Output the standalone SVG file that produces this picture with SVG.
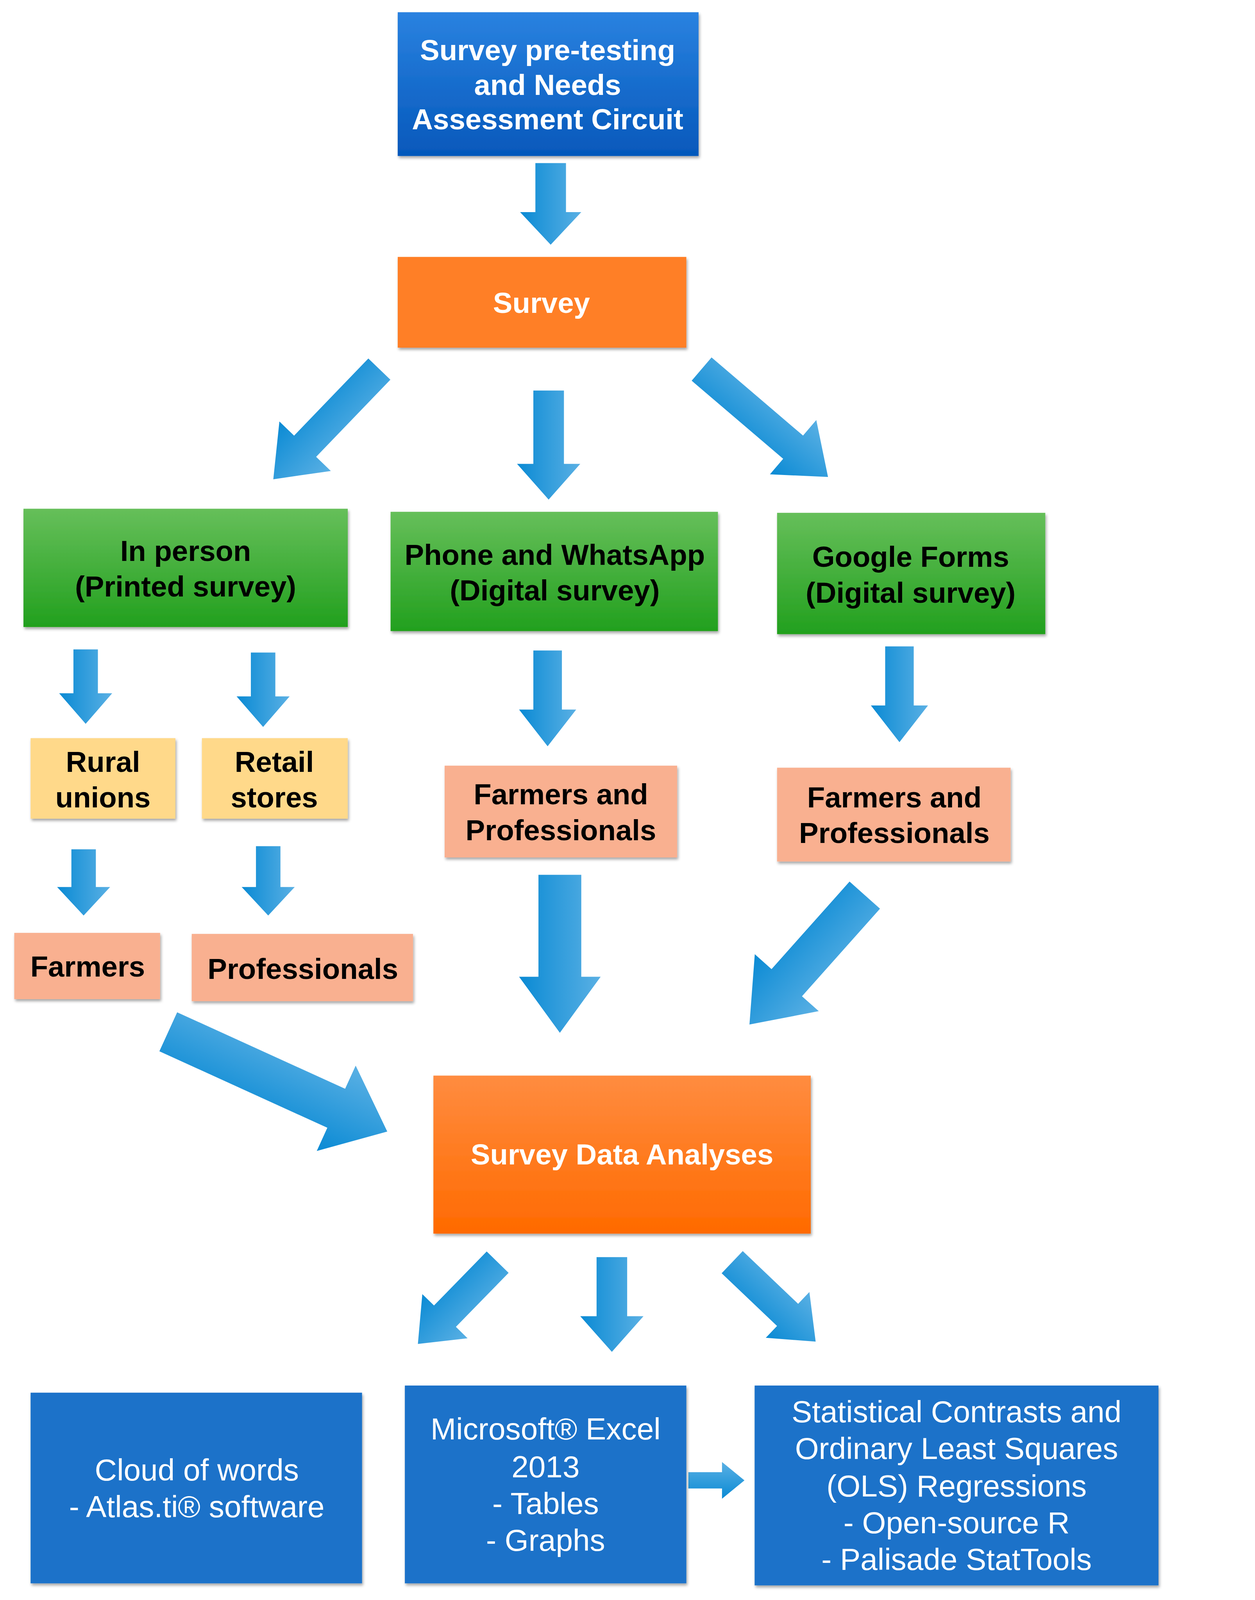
<svg xmlns="http://www.w3.org/2000/svg" width="3212" height="4374" viewBox="0 0 3212 4374">
<defs>
<linearGradient id="ag" x1="0" y1="0" x2="0" y2="1"><stop offset="0" stop-color="#5ab0e4"/><stop offset="1" stop-color="#0a8ad4"/></linearGradient>
<linearGradient id="bg" x1="0" y1="0" x2="0" y2="1"><stop offset="0" stop-color="#2a82e0"/><stop offset="1" stop-color="#0558bb"/></linearGradient>
<linearGradient id="gg" x1="0" y1="0" x2="0" y2="1"><stop offset="0" stop-color="#66bf5a"/><stop offset="1" stop-color="#22a01e"/></linearGradient>
<linearGradient id="og" x1="0" y1="0" x2="0" y2="1"><stop offset="0" stop-color="#ff8c40"/><stop offset="1" stop-color="#ff6a00"/></linearGradient>
<filter id="sh" x="-10%" y="-10%" width="130%" height="130%"><feDropShadow dx="1" dy="2" stdDeviation="1.5" flood-opacity="0.35"/></filter>
</defs>
<style>
.t{font-family:"Liberation Sans",Arial,sans-serif;text-anchor:middle}
.b{font-weight:bold;font-size:28.5px}
.w{fill:#fff}
.k{fill:#000}
.n{font-size:30px;fill:#fff}
.a{fill:url(#ag)}
.bx{filter:url(#sh)}
</style>
<g transform="scale(2.61,2.61)">
<g id="connectors">
<path class="a" transform="translate(540,160) rotate(90)" d="M0,-15 L48,-15 L48,-30 L80,0 L48,30 L48,15 L0,15 Z"/>
<path class="a" transform="translate(372,362) rotate(133.9)" d="M0,-15 L105,-15 L105,-35 L150,0 L105,35 L105,15 L0,15 Z"/>
<path class="a" transform="translate(538,383) rotate(90)" d="M0,-15 L72,-15 L72,-31 L107,0 L72,31 L72,15 L0,15 Z"/>
<path class="a" transform="translate(688,362) rotate(40.5)" d="M0,-15 L118,-15 L118,-35 L163,0 L118,35 L118,15 L0,15 Z"/>
<path class="a" transform="translate(84,637) rotate(90)" d="M0,-12 L43,-12 L43,-26 L73,0 L43,26 L43,12 L0,12 Z"/>
<path class="a" transform="translate(258,640) rotate(90)" d="M0,-12 L43,-12 L43,-26 L73,0 L43,26 L43,12 L0,12 Z"/>
<path class="a" transform="translate(537,638) rotate(90)" d="M0,-14 L58,-14 L58,-28 L94,0 L58,28 L58,14 L0,14 Z"/>
<path class="a" transform="translate(882,634) rotate(90)" d="M0,-14 L58,-14 L58,-28 L94,0 L58,28 L58,14 L0,14 Z"/>
<path class="a" transform="translate(82,833) rotate(90)" d="M0,-12 L37,-12 L37,-26 L65,0 L37,26 L37,12 L0,12 Z"/>
<path class="a" transform="translate(263,830) rotate(90)" d="M0,-12 L40,-12 L40,-26 L68,0 L40,26 L40,12 L0,12 Z"/>
<path class="a" transform="translate(549,858) rotate(90)" d="M0,-21 L100,-21 L100,-40 L155,0 L100,40 L100,21 L0,21 Z"/>
<path class="a" transform="translate(848,878) rotate(131.7)" d="M0,-20 L115,-20 L115,-42 L170,0 L115,42 L115,20 L0,20 Z"/>
<path class="a" transform="translate(165,1012) rotate(24.5)" d="M0,-21 L181,-21 L181,-46 L236,0 L181,46 L181,21 L0,21 Z"/>
<path class="a" transform="translate(488,1238) rotate(134.3)" d="M0,-15 L74,-15 L74,-31 L112,0 L74,31 L74,15 L0,15 Z"/>
<path class="a" transform="translate(600,1233) rotate(90)" d="M0,-15 L58,-15 L58,-31 L93,0 L58,31 L58,15 L0,15 Z"/>
<path class="a" transform="translate(718,1238) rotate(43.6)" d="M0,-15 L75,-15 L75,-31 L113,0 L75,31 L75,15 L0,15 Z"/>
<path class="a" transform="translate(675,1452)" d="M0,-8 L33,-8 L33,-18 L55,0 L33,18 L33,8 L0,8 Z"/>
</g>
<g id="pretest"><rect class="bx" x="390" y="12" width="295" height="141" fill="url(#bg)"/>
<text class="t b w" x="537" y="59">Survey pre-testing</text><text class="t b w" x="537" y="93">and Needs</text><text class="t b w" x="537" y="127">Assessment Circuit</text></g>
<g id="survey"><rect class="bx" x="390" y="252" width="283" height="89" fill="#ff7f27"/><text class="t b w" x="531" y="307">Survey</text></g>
<g id="inperson"><rect class="bx" x="23" y="499" width="318" height="116" fill="url(#gg)"/><text class="t b k" x="182" y="550">In person</text><text class="t b k" x="182" y="585">(Printed survey)</text></g>
<g id="phone"><rect class="bx" x="383" y="502" width="321" height="117" fill="url(#gg)"/><text class="t b k" x="544" y="554">Phone and WhatsApp</text><text class="t b k" x="544" y="589">(Digital survey)</text></g>
<g id="google"><rect class="bx" x="762" y="503" width="263" height="119" fill="url(#gg)"/><text class="t b k" x="893" y="556">Google Forms</text><text class="t b k" x="893" y="591">(Digital survey)</text></g>
<g id="rural"><rect class="bx" x="30" y="724" width="142" height="79" fill="#ffd98a"/><text class="t b k" x="101" y="757">Rural</text><text class="t b k" x="101" y="792">unions</text></g>
<g id="retail"><rect class="bx" x="198" y="724" width="143" height="79" fill="#ffd98a"/><text class="t b k" x="269" y="757">Retail</text><text class="t b k" x="269" y="792">stores</text></g>
<g id="fp1"><rect class="bx" x="436" y="751" width="228" height="90" fill="#f9b090"/><text class="t b k" x="550" y="789">Farmers and</text><text class="t b k" x="550" y="824">Professionals</text></g>
<g id="fp2"><rect class="bx" x="762" y="753" width="229" height="92" fill="#f9b090"/><text class="t b k" x="877" y="792">Farmers and</text><text class="t b k" x="877" y="827">Professionals</text></g>
<g id="farmers"><rect class="bx" x="14" y="915" width="143" height="65" fill="#f9b090"/><text class="t b k" x="86" y="958">Farmers</text></g>
<g id="professionals"><rect class="bx" x="188" y="916" width="217" height="66" fill="#f9b090"/><text class="t b k" x="297" y="960">Professionals</text></g>
<g id="analyses"><rect class="bx" x="425" y="1055" width="370" height="155" fill="url(#og)"/><text class="t b w" x="610" y="1142">Survey Data Analyses</text></g>
<g id="cloud"><rect class="bx" x="30" y="1366" width="325" height="187" fill="#1a72c9"/><text class="t n" x="193" y="1452">Cloud of words</text><text class="t n" x="193" y="1488">- Atlas.ti® software</text></g>
<g id="excel"><rect class="bx" x="397" y="1359" width="276" height="194" fill="#1a72c9"/><text class="t n" x="535" y="1412">Microsoft® Excel</text><text class="t n" x="535" y="1449">2013</text><text class="t n" x="535" y="1485">- Tables</text><text class="t n" x="535" y="1521">- Graphs</text></g>
<g id="stats"><rect class="bx" x="740" y="1359" width="396" height="196" fill="#1a72c9"/><text class="t n" x="938" y="1395">Statistical Contrasts and</text><text class="t n" x="938" y="1431">Ordinary Least Squares</text><text class="t n" x="938" y="1468">(OLS) Regressions</text><text class="t n" x="938" y="1504">- Open-source R</text><text class="t n" x="938" y="1540">- Palisade StatTools</text></g>
</g>
</svg>
